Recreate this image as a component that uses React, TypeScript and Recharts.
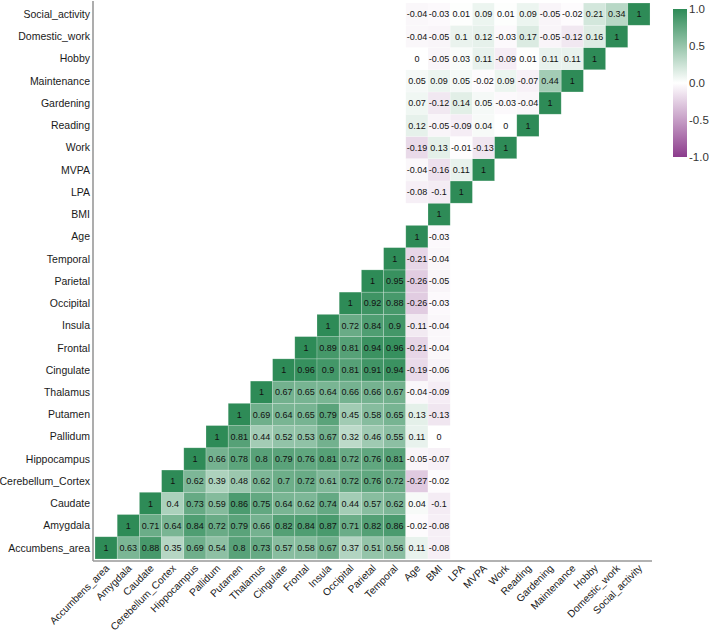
import React from 'react';
import { ScatterChart, Scatter, XAxis, YAxis, Customized } from 'recharts';

const variables = [
  'Accumbens_area', 'Amygdala', 'Caudate', 'Cerebellum_Cortex', 'Hippocampus',
  'Pallidum', 'Putamen', 'Thalamus', 'Cingulate', 'Frontal', 'Insula', 'Occipital',
  'Parietal', 'Temporal', 'Age', 'BMI', 'LPA', 'MVPA', 'Work', 'Reading',
  'Gardening', 'Maintenance', 'Hobby', 'Domestic_work', 'Social_activity',
];

// Brain rows: values start at the diagonal and run through BMI
const rowAccumbens = [1, 0.63, 0.88, 0.35, 0.69, 0.54, 0.8, 0.73, 0.57, 0.58, 0.67, 0.37, 0.51, 0.56, 0.11, -0.08];
const rowAmygdala = [1, 0.71, 0.64, 0.84, 0.72, 0.79, 0.66, 0.82, 0.84, 0.87, 0.71, 0.82, 0.86, -0.02, -0.08];
const rowCaudate = [1, 0.4, 0.73, 0.59, 0.86, 0.75, 0.64, 0.62, 0.74, 0.44, 0.57, 0.62, 0.04, -0.1];
const rowCerebellum = [1, 0.62, 0.39, 0.48, 0.62, 0.7, 0.72, 0.61, 0.72, 0.76, 0.72, -0.27, -0.02];
const rowHippocampus = [1, 0.66, 0.78, 0.8, 0.79, 0.76, 0.81, 0.72, 0.76, 0.81, -0.05, -0.07];
const rowPallidum = [1, 0.81, 0.44, 0.52, 0.53, 0.67, 0.32, 0.46, 0.55, 0.11, 0];
const rowPutamen = [1, 0.69, 0.64, 0.65, 0.79, 0.45, 0.58, 0.65, 0.13, -0.13];
const rowThalamus = [1, 0.67, 0.65, 0.64, 0.66, 0.66, 0.67, -0.04, -0.09];
const rowCingulate = [1, 0.96, 0.9, 0.81, 0.91, 0.94, -0.19, -0.06];
const rowFrontal = [1, 0.89, 0.81, 0.94, 0.96, -0.21, -0.04];
const rowInsula = [1, 0.72, 0.84, 0.9, -0.11, -0.04];
const rowOccipital = [1, 0.92, 0.88, -0.26, -0.03];
const rowParietal = [1, 0.95, -0.26, -0.05];
const rowTemporal = [1, -0.21, -0.04];
const rowAge = [1, -0.03];
const rowBMI = [1];
// Activity rows: first two values are Age and BMI, then LPA through the diagonal
const rowLPA = [-0.08, -0.1, 1];
const rowMVPA = [-0.04, -0.16, 0.11, 1];
const rowWork = [-0.19, 0.13, -0.01, -0.13, 1];
const rowReading = [0.12, -0.05, -0.09, 0.04, 0, 1];
const rowGardening = [0.07, -0.12, 0.14, 0.05, -0.03, -0.04, 1];
const rowMaintenance = [0.05, 0.09, 0.05, -0.02, 0.09, -0.07, 0.44, 1];
const rowHobby = [0, -0.05, 0.03, 0.11, -0.09, 0.01, 0.11, 0.11, 1];
const rowDomestic = [-0.04, -0.05, 0.1, 0.12, -0.03, 0.17, -0.05, -0.12, 0.16, 1];
const rowSocial = [-0.04, -0.03, 0.01, 0.09, 0.01, 0.09, -0.05, -0.02, 0.21, 0.34, 1];

const matrixRows = [
  rowAccumbens, rowAmygdala, rowCaudate, rowCerebellum, rowHippocampus, rowPallidum,
  rowPutamen, rowThalamus, rowCingulate, rowFrontal, rowInsula, rowOccipital,
  rowParietal, rowTemporal, rowAge, rowBMI, rowLPA, rowMVPA, rowWork, rowReading,
  rowGardening, rowMaintenance, rowHobby, rowDomestic, rowSocial,
];

const colorTicks = [1, 0.5, 0, -0.5, -1];

const W = 709;
const H = 632;
const MARGIN = { top: 1, right: 57, bottom: 0, left: 0 };
const Y_AXIS_W = 93;
const X_AXIS_H = 71;
const PAD = 0.59;
const N = variables.length;
const DOMAIN: [number, number] = [-PAD, N - 1 + PAD];
const PLOT_W = W - MARGIN.left - MARGIN.right - Y_AXIS_W;
const PLOT_H = H - MARGIN.top - MARGIN.bottom - X_AXIS_H;
const CELL_W = PLOT_W / (DOMAIN[1] - DOMAIN[0]);
const CELL_H = PLOT_H / (DOMAIN[1] - DOMAIN[0]);

const FONT = '"Liberation Sans", Arial, sans-serif';
const GREEN = [46, 139, 87];
const PURPLE = [140, 60, 140];

function fillFor(v: number) {
  const target = v >= 0 ? GREEN : PURPLE;
  const t = Math.min(1, Math.abs(v));
  const c = target.map((ch) => Math.round(255 + (ch - 255) * t));
  return `rgb(${c[0]},${c[1]},${c[2]})`;
}

const ageIdx = variables.indexOf('Age');
const lpaIdx = variables.indexOf('LPA');

const cells: { x: number; y: number; v: number }[] = [];
matrixRows.forEach((vals, r) => {
  vals.forEach((v, k) => {
    let col: number;
    if (r < lpaIdx) col = r + k;
    else col = k < 2 ? ageIdx + k : lpaIdx + (k - 2);
    cells.push({ x: col, y: r, v });
  });
});

const CellShape = (props: any) => {
  const { cx, cy, payload } = props;
  if (cx == null || cy == null) return null;
  return (
    <g>
      <rect
        x={cx - CELL_W / 2}
        y={cy - CELL_H / 2}
        width={CELL_W}
        height={CELL_H}
        fill={fillFor(payload.v)}
        stroke="rgba(255,255,255,0.35)"
        strokeWidth={0.6}
      />
      <text
        x={cx}
        y={cy}
        dy={3.2}
        textAnchor="middle"
        fontSize={9}
        fontFamily={FONT}
        fill="#111"
      >
        {String(payload.v)}
      </text>
    </g>
  );
};

const XTick = (props: any) => {
  const { x, y, payload } = props;
  const ax = x + 4;
  const ay = y + 6;
  return (
    <text
      x={ax}
      y={ay}
      textAnchor="end"
      fontSize={10.2}
      fontFamily={FONT}
      fill="#1a1a1a"
      transform={`rotate(-45, ${ax}, ${ay})`}
    >
      {variables[payload.value]}
    </text>
  );
};

const YTick = (props: any) => {
  const { x, y, payload } = props;
  return (
    <text x={x} y={y} dy={3.8} textAnchor="end" fontSize={10.5} fontFamily={FONT} fill="#1a1a1a">
      {variables[payload.value]}
    </text>
  );
};

const ColorBar = () => {
  const x = 673;
  const top = 9;
  const h = 148;
  const w = 14;
  return (
    <g>
      <defs>
        <linearGradient id="corrGrad" x1="0" y1="0" x2="0" y2="1">
          <stop offset="0%" stopColor={fillFor(1)} />
          <stop offset="25%" stopColor={fillFor(0.5)} />
          <stop offset="50%" stopColor={fillFor(0)} />
          <stop offset="75%" stopColor={fillFor(-0.5)} />
          <stop offset="100%" stopColor={fillFor(-1)} />
        </linearGradient>
      </defs>
      <rect x={x} y={top} width={w} height={h} fill="url(#corrGrad)" />
      {colorTicks.map((t) => (
        <text
          key={t}
          x={x + w + 2}
          y={top + ((1 - t) / 2) * h}
          dy={4}
          fontSize={11.5}
          fontFamily={FONT}
          fill="#333"
        >
          {t.toFixed(1)}
        </text>
      ))}
    </g>
  );
};

export default function App() {
  const ticks = variables.map((_, i) => i);
  return (
    <div style={{ position: 'absolute', left: 0, top: 0, width: W, height: H, background: '#fff' }}>
      <ScatterChart width={W} height={H} margin={MARGIN}>
        <XAxis
          type="number"
          dataKey="x"
          domain={DOMAIN}
          ticks={ticks}
          interval={0}
          allowDataOverflow
          height={X_AXIS_H}
          tickLine={false}
          tickSize={0}
          tickMargin={2}
          axisLine={{ stroke: '#999', strokeWidth: 1.6 }}
          tick={<XTick />}
        />
        <YAxis
          type="number"
          dataKey="y"
          domain={DOMAIN}
          ticks={ticks}
          interval={0}
          allowDataOverflow
          width={Y_AXIS_W}
          tickLine={false}
          tickSize={0}
          tickMargin={3}
          axisLine={{ stroke: '#999', strokeWidth: 1.6 }}
          tick={<YTick />}
        />
        <Scatter data={cells} shape={<CellShape />} isAnimationActive={false} />
        <Customized component={<ColorBar />} />
      </ScatterChart>
    </div>
  );
}
